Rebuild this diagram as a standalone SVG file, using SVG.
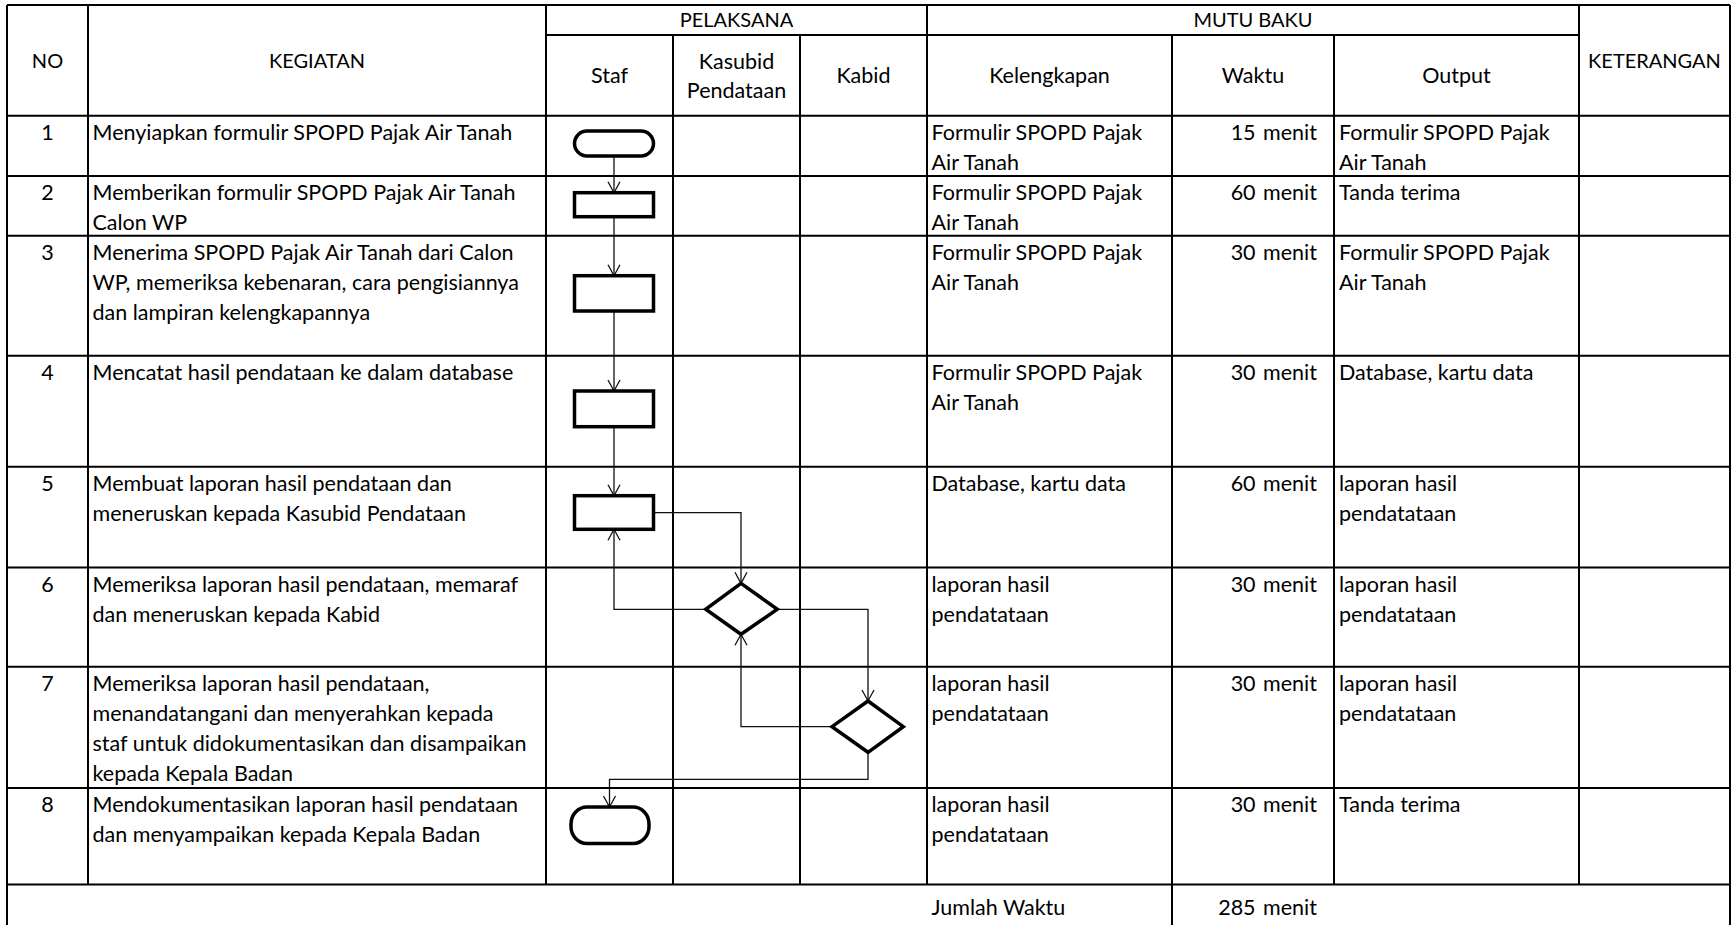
<svg xmlns="http://www.w3.org/2000/svg" width="1731" height="925" viewBox="0 0 1731 925">
<style>
text{font-family:Lato,"Liberation Sans",sans-serif;font-size:21.5px;fill:#000}
text.u{font-size:20px}
.c{text-anchor:middle}
.r{text-anchor:end;word-spacing:2px}
.grid{stroke:#000;stroke-width:2;fill:none}
.shape{fill:#fff;stroke:#000;stroke-width:3.5}
.conn{fill:none;stroke:#111;stroke-width:1.3}
</style>
<defs>
<marker id="arr" markerUnits="userSpaceOnUse" markerWidth="14" markerHeight="14" refX="0" refY="0" orient="auto" overflow="visible">
<path d="M-11,-6 L0,0 L-11,6" fill="none" stroke="#111" stroke-width="1.3"/>
</marker>
</defs>
<rect x="0" y="0" width="1731" height="925" fill="#fff"/>
<g id="table" class="grid">
<path d="M7,5H1730M546,35H1579M7,115.7H1730M7,176H1730M7,235.7H1730M7,355.7H1730M7,466.7H1730M7,567.5H1730M7,666.7H1730M7,788H1730M7,884.5H1730"/>
<path d="M7,5V925M88,5V884.5M546,5V884.5M673,35V884.5M800,35V884.5M927,5V884.5M1172,35V925M1334,35V884.5M1579,5V884.5M1730,5V925"/>
</g>
<g id="header">
<text class="c u" x="47.5" y="68">NO</text>
<text class="c u" x="317" y="68">KEGIATAN</text>
<text class="c u" x="736.5" y="27">PELAKSANA</text>
<text class="c u" x="1253" y="27">MUTU BAKU</text>
<text class="c" x="609.5" y="83">Staf</text>
<text class="c" x="736.5" y="69">Kasubid</text>
<text class="c" x="736.5" y="98">Pendataan</text>
<text class="c" x="863.5" y="83">Kabid</text>
<text class="c" x="1049.5" y="83">Kelengkapan</text>
<text class="c" x="1253" y="83">Waktu</text>
<text class="c" x="1456.5" y="83">Output</text>
<text class="c u" x="1654.5" y="68">KETERANGAN</text>
</g>
<g id="rows">
<g id="row1">
<text class="c" x="47.5" y="139.7">1</text>
<text x="92.5" y="139.7">Menyiapkan formulir SPOPD Pajak Air Tanah</text>
<text x="931.5" y="139.7">Formulir SPOPD Pajak</text><text x="931.5" y="169.7">Air Tanah</text>
<text class="r" x="1317" y="139.7">15 menit</text>
<text x="1339" y="139.7">Formulir SPOPD Pajak</text><text x="1339" y="169.7">Air Tanah</text>
</g>
<g id="row2">
<text class="c" x="47.5" y="200">2</text>
<text x="92.5" y="200">Memberikan formulir SPOPD Pajak Air Tanah</text><text x="92.5" y="230">Calon WP</text>
<text x="931.5" y="200">Formulir SPOPD Pajak</text><text x="931.5" y="230">Air Tanah</text>
<text class="r" x="1317" y="200">60 menit</text>
<text x="1339" y="200">Tanda terima</text>
</g>
<g id="row3">
<text class="c" x="47.5" y="259.7">3</text>
<text x="92.5" y="259.7">Menerima SPOPD Pajak Air Tanah dari Calon</text><text x="92.5" y="289.7">WP, memeriksa kebenaran, cara pengisiannya</text><text x="92.5" y="319.7">dan lampiran kelengkapannya</text>
<text x="931.5" y="259.7">Formulir SPOPD Pajak</text><text x="931.5" y="289.7">Air Tanah</text>
<text class="r" x="1317" y="259.7">30 menit</text>
<text x="1339" y="259.7">Formulir SPOPD Pajak</text><text x="1339" y="289.7">Air Tanah</text>
</g>
<g id="row4">
<text class="c" x="47.5" y="379.7">4</text>
<text x="92.5" y="379.7">Mencatat hasil pendataan ke dalam database</text>
<text x="931.5" y="379.7">Formulir SPOPD Pajak</text><text x="931.5" y="409.7">Air Tanah</text>
<text class="r" x="1317" y="379.7">30 menit</text>
<text x="1339" y="379.7">Database, kartu data</text>
</g>
<g id="row5">
<text class="c" x="47.5" y="490.7">5</text>
<text x="92.5" y="490.7">Membuat laporan hasil pendataan dan</text><text x="92.5" y="520.7">meneruskan kepada Kasubid Pendataan</text>
<text x="931.5" y="490.7">Database, kartu data</text>
<text class="r" x="1317" y="490.7">60 menit</text>
<text x="1339" y="490.7">laporan hasil</text><text x="1339" y="520.7">pendatataan</text>
</g>
<g id="row6">
<text class="c" x="47.5" y="591.5">6</text>
<text x="92.5" y="591.5">Memeriksa laporan hasil pendataan, memaraf</text><text x="92.5" y="621.5">dan meneruskan kepada Kabid</text>
<text x="931.5" y="591.5">laporan hasil</text><text x="931.5" y="621.5">pendatataan</text>
<text class="r" x="1317" y="591.5">30 menit</text>
<text x="1339" y="591.5">laporan hasil</text><text x="1339" y="621.5">pendatataan</text>
</g>
<g id="row7">
<text class="c" x="47.5" y="690.7">7</text>
<text x="92.5" y="690.7">Memeriksa laporan hasil pendataan,</text><text x="92.5" y="720.7">menandatangani dan menyerahkan kepada</text><text x="92.5" y="750.7">staf untuk didokumentasikan dan disampaikan</text><text x="92.5" y="780.7">kepada Kepala Badan</text>
<text x="931.5" y="690.7">laporan hasil</text><text x="931.5" y="720.7">pendatataan</text>
<text class="r" x="1317" y="690.7">30 menit</text>
<text x="1339" y="690.7">laporan hasil</text><text x="1339" y="720.7">pendatataan</text>
</g>
<g id="row8">
<text class="c" x="47.5" y="812">8</text>
<text x="92.5" y="812">Mendokumentasikan laporan hasil pendataan</text><text x="92.5" y="842">dan menyampaikan kepada Kepala Badan</text>
<text x="931.5" y="812">laporan hasil</text><text x="931.5" y="842">pendatataan</text>
<text class="r" x="1317" y="812">30 menit</text>
<text x="1339" y="812">Tanda terima</text>
</g>
<g id="total">
<text x="931.5" y="915">Jumlah Waktu</text>
<text class="r" x="1317" y="915">285 menit</text>
</g>
</g>
<g id="connectors" class="conn">
<path marker-end="url(#arr)" d="M614,156V192.7"/>
<path marker-end="url(#arr)" d="M614,216.7V275.7"/>
<path marker-end="url(#arr)" d="M614,311V391"/>
<path marker-end="url(#arr)" d="M614,426.7V495.7"/>
<path marker-end="url(#arr)" d="M653,512.7H741V583.3"/>
<path marker-end="url(#arr)" d="M705.7,609.3H614V529.3"/>
<path marker-end="url(#arr)" d="M777.3,609.3H868V701"/>
<path marker-end="url(#arr)" d="M832,726.7H741V634.3"/>
<path marker-end="url(#arr)" d="M868,752.3V779.3H609.5V807"/>
</g>
<g id="n1"><rect class="shape" x="574.5" y="131" width="79" height="25" rx="12.5"/></g>
<g id="n2"><rect class="shape" x="574.5" y="192.7" width="79" height="24"/></g>
<g id="n3"><rect class="shape" x="574.5" y="275.7" width="79" height="35.3"/></g>
<g id="n4"><rect class="shape" x="574.5" y="391" width="79" height="35.7"/></g>
<g id="n5"><rect class="shape" x="574.5" y="495.7" width="79" height="33.6"/></g>
<g id="n6"><polygon class="shape" points="741,583.3 777.3,609.3 741,634.3 705.7,609.3"/></g>
<g id="n7"><polygon class="shape" points="868,701 903.3,726.7 868,752.3 832,726.7"/></g>
<g id="n8"><rect class="shape" x="571" y="807" width="78" height="36.5" rx="16" ry="17"/></g>
</svg>
